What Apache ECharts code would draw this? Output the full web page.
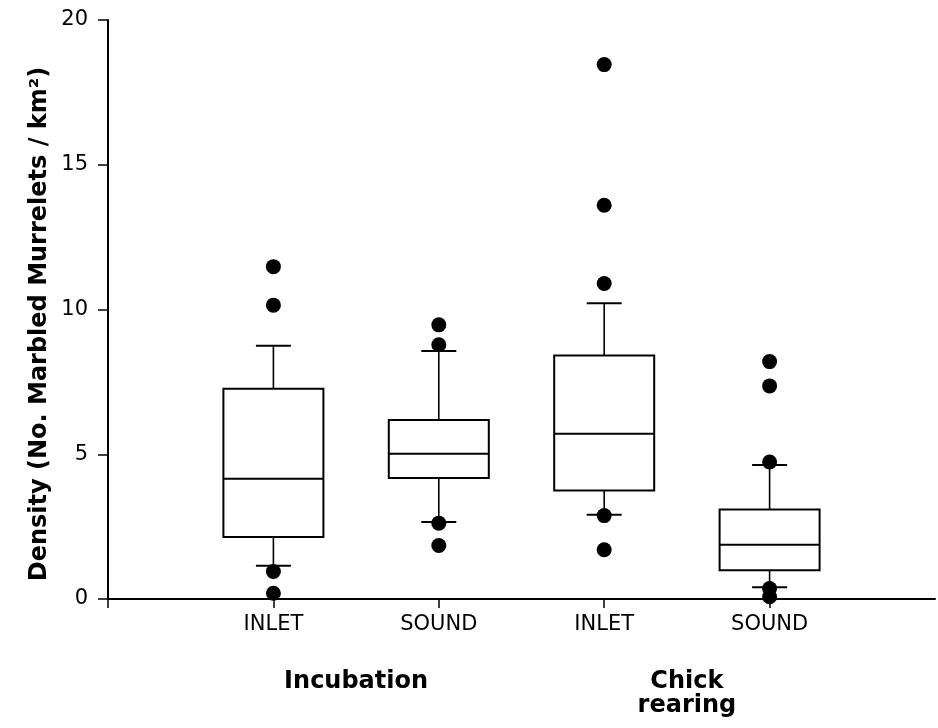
<!DOCTYPE html>
<html>
<head>
<meta charset="utf-8">
<script src="https://cdn.jsdelivr.net/npm/echarts@6/dist/echarts.min.js"></script>
<style>
  html, body { margin: 0; padding: 0; background: #fff; }
  #chart { width: 938px; height: 728px; }
</style>
</head>
<body>
<div id="chart"></div>
<script>
// ---- data ----
const categories = ['', 'INLET', 'SOUND', 'INLET', 'SOUND', ''];
const boxIndex    = [1, 2, 3, 4];
const whiskerLow  = [1.15, 2.66, 2.91, 0.41];
const q1          = [2.14, 4.18, 3.75, 0.99];
const median      = [4.15, 5.02, 5.71, 1.87];
const q3          = [7.26, 6.18, 8.41, 3.09];
const whiskerHigh = [8.75, 8.57, 10.22, 4.63];
const outliersIncubationInlet = [11.48, 10.15, 0.95, 0.2];
const outliersIncubationSound = [9.47, 8.78, 2.62, 1.85];
const outliersChickInlet      = [18.46, 13.6, 10.9, 2.88, 1.70];
const outliersChickSound      = [8.2, 7.36, 4.73, 0.36, 0.08];
const yTicks = { min: 0, max: 20, interval: 5 };
const groups = [
  { name: 'Incubation', cats: [1, 2] },
  { name: 'Chick\nrearing', cats: [3, 4] }
];

const FONT = 'DejaVu Sans';
const boxData = boxIndex.map((x, i) => [x, whiskerLow[i], q1[i], median[i], q3[i], whiskerHigh[i]]);
const outlierSets = [outliersIncubationInlet, outliersIncubationSound, outliersChickInlet, outliersChickSound];
const outlierData = [];
outlierSets.forEach((set, i) => set.forEach(v => outlierData.push([boxIndex[i], v])));

const BOX_W = 100, CAP_W = 35;

function renderBox(params, api) {
  const x = api.value(0);
  const pLow = api.coord([x, api.value(1)]);
  const pQ1 = api.coord([x, api.value(2)]);
  const pMed = api.coord([x, api.value(3)]);
  const pQ3 = api.coord([x, api.value(4)]);
  const pHigh = api.coord([x, api.value(5)]);
  const cx = pQ1[0];
  const stroke = { stroke: '#000', lineWidth: 2, fill: 'none' };
  const thin = { stroke: '#000', lineWidth: 1.6 };
  return {
    type: 'group',
    children: [
      { type: 'line', shape: { x1: cx, y1: pQ3[1], x2: cx, y2: pHigh[1] }, style: thin },
      { type: 'line', shape: { x1: cx, y1: pQ1[1], x2: cx, y2: pLow[1] }, style: thin },
      { type: 'line', shape: { x1: cx - CAP_W / 2, y1: pHigh[1], x2: cx + CAP_W / 2, y2: pHigh[1] }, style: stroke },
      { type: 'line', shape: { x1: cx - CAP_W / 2, y1: pLow[1], x2: cx + CAP_W / 2, y2: pLow[1] }, style: stroke },
      { type: 'rect', shape: { x: cx - BOX_W / 2, y: pQ3[1], width: BOX_W, height: pQ1[1] - pQ3[1] }, style: { stroke: '#000', lineWidth: 2, fill: '#fff' } },
      { type: 'line', shape: { x1: cx - BOX_W / 2, y1: pMed[1], x2: cx + BOX_W / 2, y2: pMed[1] }, style: stroke }
    ]
  };
}

const chart = echarts.init(document.getElementById('chart'));
chart.setOption({
  animation: false,
  backgroundColor: '#fff',
  textStyle: { fontFamily: FONT, color: '#000' },
  grid: { left: 108, right: 0, top: 20, bottom: 129 },
  xAxis: {
    type: 'category',
    data: categories,
    boundaryGap: false,
    axisLine: { lineStyle: { color: '#000', width: 2 } },
    axisTick: { show: true, length: 9, interval: (idx) => idx < categories.length - 1, lineStyle: { color: '#000', width: 1.5 } },
    axisLabel: { interval: 0, fontSize: 21, color: '#000', margin: 15, fontFamily: FONT },
    splitLine: { show: false }
  },
  yAxis: {
    type: 'value',
    min: yTicks.min, max: yTicks.max, interval: yTicks.interval,
    axisLine: { show: true, lineStyle: { color: '#000', width: 2 } },
    axisTick: { show: true, length: 10, lineStyle: { color: '#000', width: 1.5 } },
    axisLabel: { fontSize: 21, color: '#000', margin: 20, fontFamily: FONT, padding: [0, 0, 4, 0] },
    splitLine: { show: false }
  },
  series: [
    { type: 'custom', renderItem: renderBox, data: boxData, encode: { x: 0, y: [1, 2, 3, 4, 5] }, z: 2 },
    { type: 'scatter', data: outlierData, symbol: 'circle', symbolSize: 15, itemStyle: { color: '#000', opacity: 1 }, z: 3 }
  ]
});

const graphics = groups.map(g => {
  const xs = g.cats.map(c => chart.convertToPixel({ xAxisIndex: 0 }, c));
  const cx = (xs[0] + xs[1]) / 2;
  return {
    type: 'text', x: cx, y: 670,
    style: { text: g.name, font: 'bold 24px "DejaVu Sans"', fill: '#000', textAlign: 'center', textVerticalAlign: 'top', lineHeight: 24 }
  };
});
graphics.push({
  type: 'text', x: 40, y: 324, rotation: Math.PI / 2,
  style: { text: 'Density (No. Marbled Murrelets / km²)', font: 'bold 24px "DejaVu Sans"', fill: '#000', textAlign: 'center', textVerticalAlign: 'middle' }
});
chart.setOption({ graphic: graphics });
</script>
</body>
</html>
